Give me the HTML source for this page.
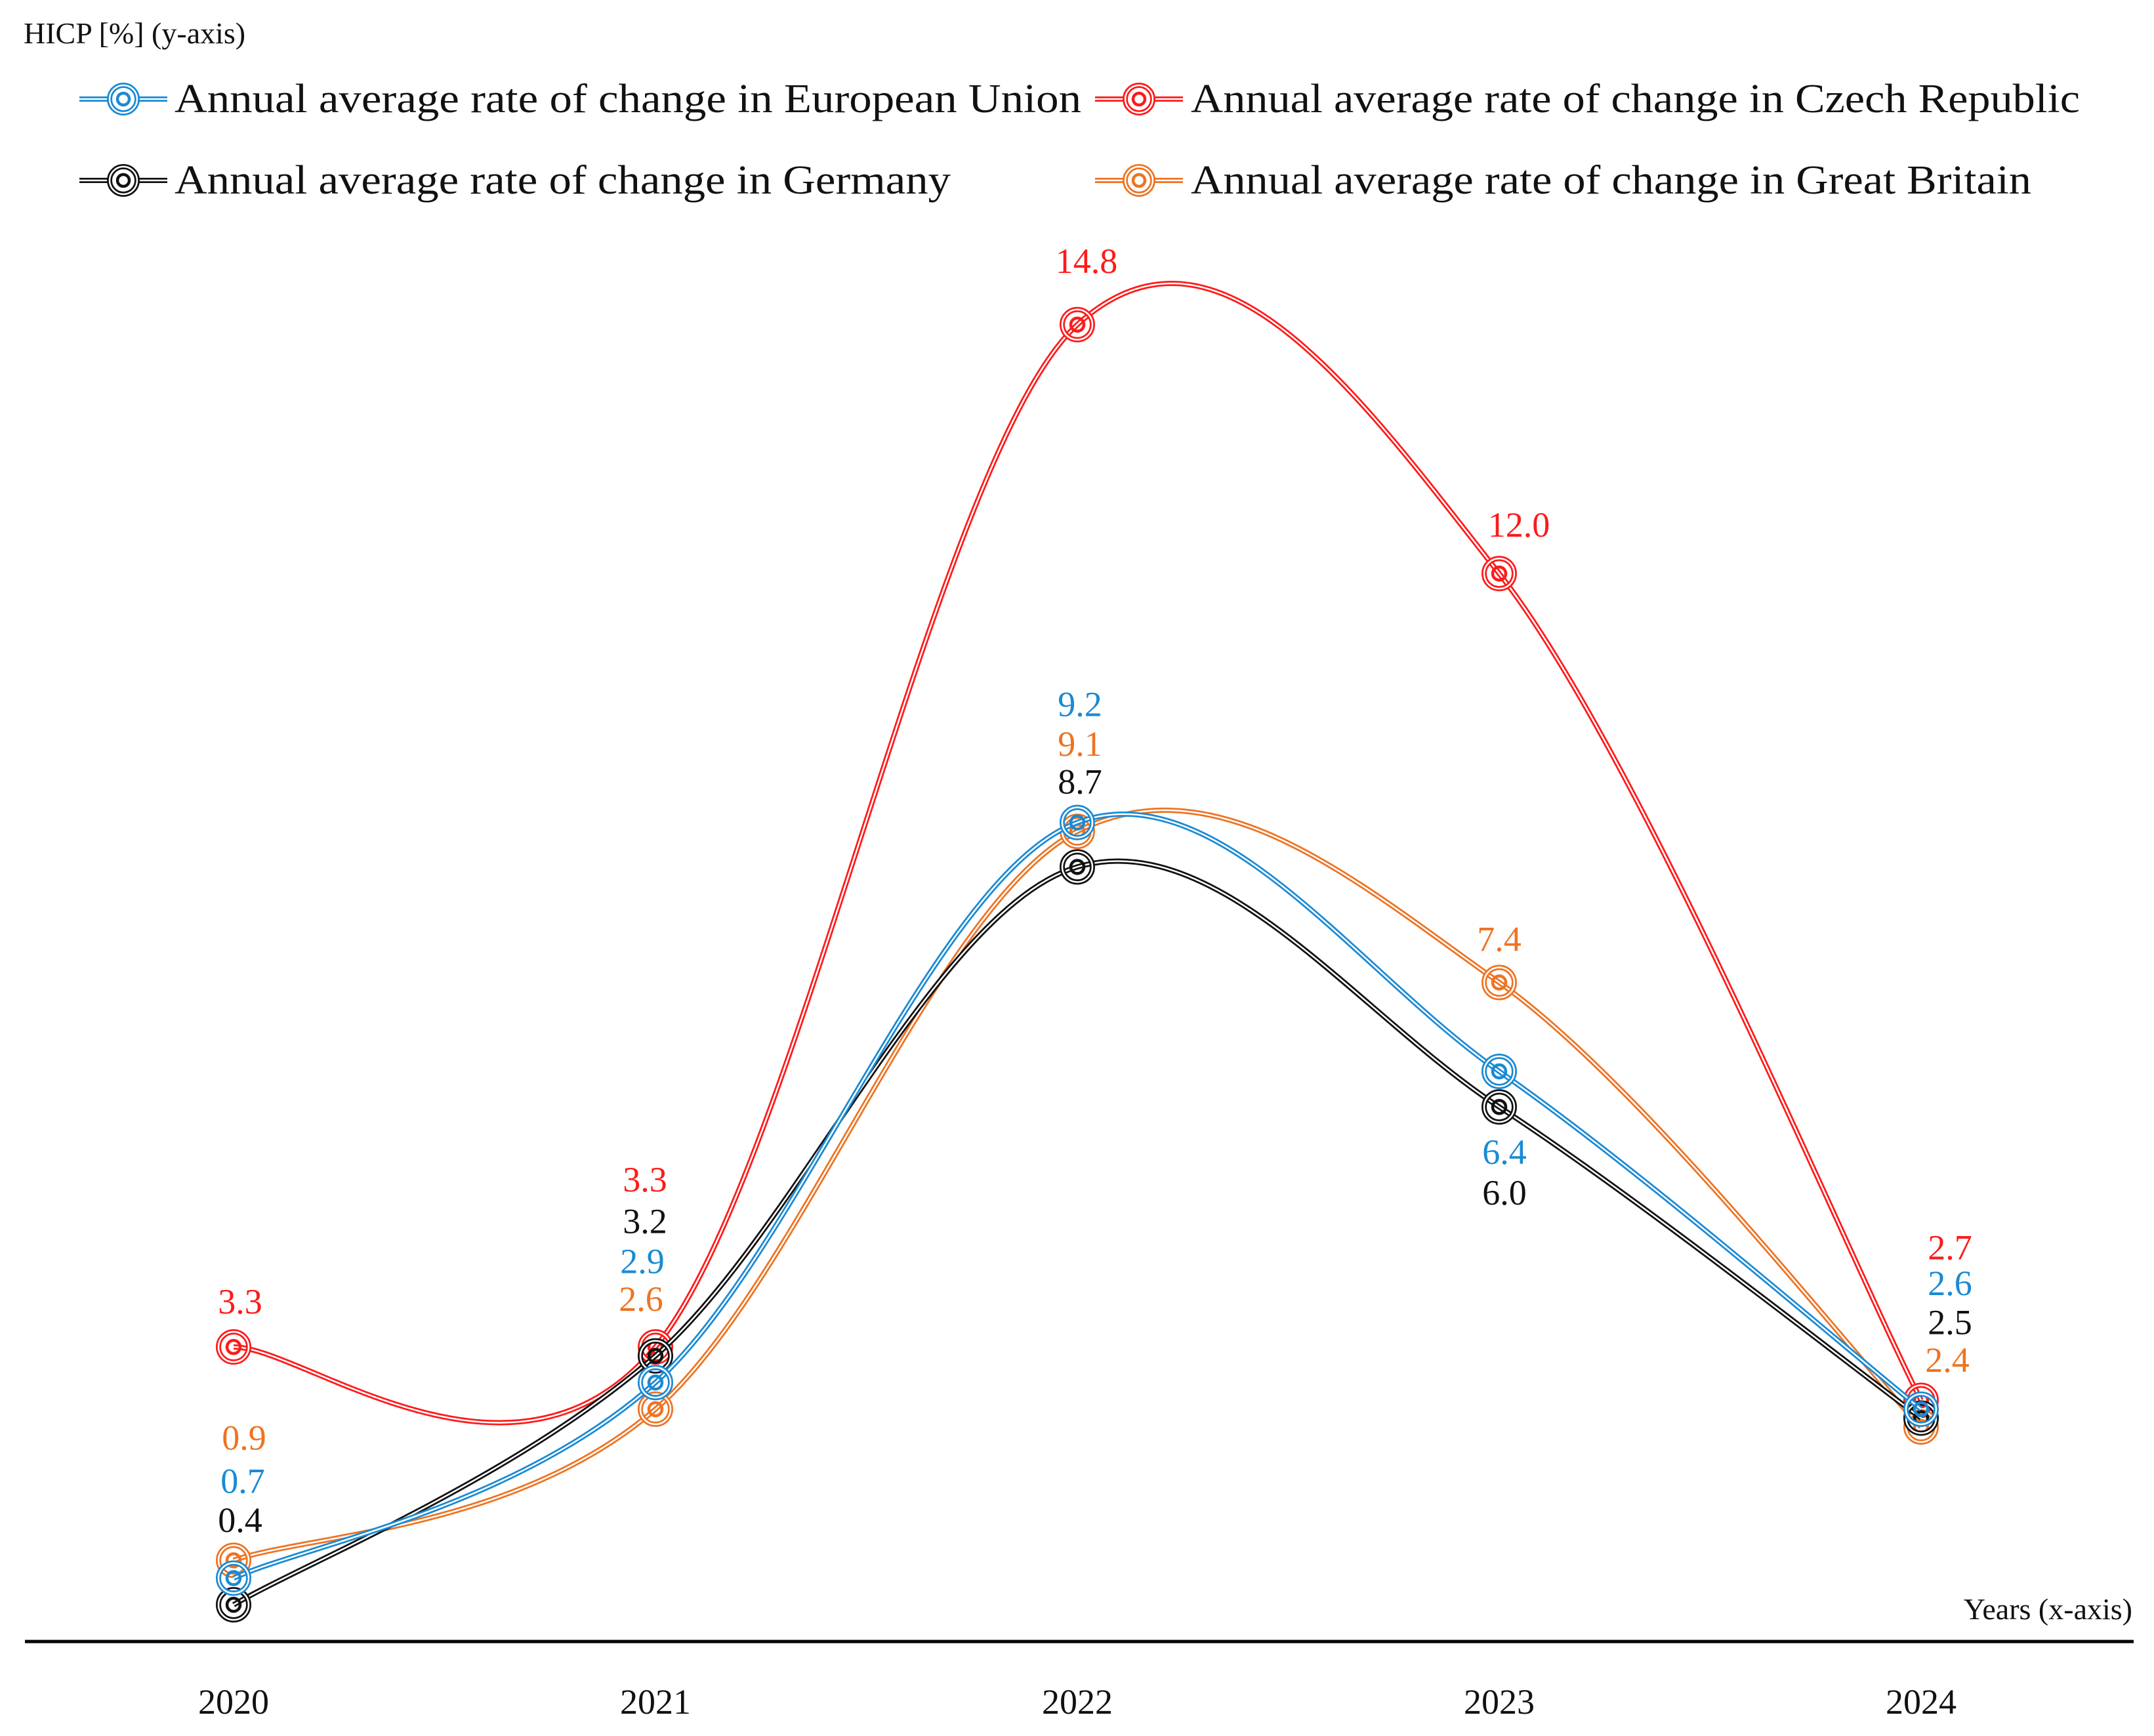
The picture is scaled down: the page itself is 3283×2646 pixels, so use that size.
<!DOCTYPE html>
<html><head><meta charset="utf-8"><style>
html,body{margin:0;padding:0;background:#fff;}
svg{display:block;font-family:"Liberation Serif",serif;}
</style></head><body>
<svg id="chart" width="3283" height="2646" viewBox="0 0 3283 2646" xmlns="http://www.w3.org/2000/svg">
<text x="36" y="66" font-size="46" fill="#111">HICP [%] (y-axis)</text>
<g id="legend"></g>
<line x1="38" y1="2502" x2="3252" y2="2502" stroke="#000" stroke-width="5"/>
<text x="3250" y="2468" font-size="46" text-anchor="end" fill="#111">Years (x-axis)</text>
<g id="xticks"></g>
<g id="series"></g>
<g id="labels"></g>
</svg>
<script>
const years = ["2020","2021","2022","2023","2024"];
const seriesNames = ["European Union","Czech Republic","Germany","Great Britain"];
const euValues = [0.7, 2.9, 9.2, 6.4, 2.6];
const czValues = [3.3, 3.3, 14.8, 12.0, 2.7];
const deValues = [0.4, 3.2, 8.7, 6.0, 2.5];
const gbValues = [0.9, 2.6, 9.1, 7.4, 2.4];
const colors = {eu:"#1a8ad4", cz:"#ff1a1a", de:"#111111", gb:"#ee7322"};
// label offsets (px) relative to marker, per year
const czLabelOff = [[10,-64],[-16,-250],[14,-92],[30,-69],[44,-228]];
const euLabelOff = [[14,-143],[-20,-180],[4,-175],[8,128],[44,-187]];
const deLabelOff = [[10,-124],[-16,-200],[4,-125],[8,136],[44,-141]];
const gbLabelOff = [[16,-182],[-22,-163],[4,-128],[0,-61],[40,-97]];
const LABEL_SHIFT = 13;

const X0=356, XSTEP=643, Y04=2446, YUNIT=135.5;
function xs(i){return X0+i*XSTEP;}
function ys(v){return Y04-(v-0.4)*YUNIT;}

const svg=document.getElementById('chart');
const NS="http://www.w3.org/2000/svg";
function el(t,a,parent){const e=document.createElementNS(NS,t);for(const k in a)e.setAttribute(k,a[k]);(parent||svg).appendChild(e);return e;}

const xt=document.getElementById('xticks');
years.forEach((y,i)=>{
  const t=el('text',{x:xs(i),y:2612,'font-size':54,'text-anchor':'middle',fill:'#111'},xt);
  
  
  t.textContent=y;
});

function pathFor(vals){
  const p=vals.map((v,i)=>[xs(i),ys(v)]);
  let d=`M${p[0][0]},${p[0][1]}`;
  for(let i=0;i<p.length-1;i++){
    const p0=p[i-1]||p[i], p1=p[i], p2=p[i+1], p3=p[i+2]||p[i+1];
    const c1=[p1[0]+(p2[0]-p0[0])/6,p1[1]+(p2[1]-p0[1])/6];
    const c2=[p2[0]-(p3[0]-p1[0])/6,p2[1]-(p3[1]-p1[1])/6];
    d+=` C${c1[0]},${c1[1]} ${c2[0]},${c2[1]} ${p2[0]},${p2[1]}`;
  }
  return d;
}
function marker(g,cx,cy,c){
  el('circle',{cx,cy,r:23,fill:'none',stroke:c,'stroke-width':8},g);
  el('circle',{cx,cy,r:23,fill:'none',stroke:'#fff','stroke-width':2.5},g);
  el('circle',{cx,cy,r:10,fill:'none',stroke:c,'stroke-width':4.5},g);
}
const sg=document.getElementById('series');
const lg=document.getElementById('labels');
const all=[["cz",czValues,czLabelOff],["gb",gbValues,gbLabelOff],["de",deValues,deLabelOff],["eu",euValues,euLabelOff]];
all.forEach(([k,vals,off])=>{
  const g=el('g',{},sg);
  
  
  const d=pathFor(vals);
  const l1=el('path',{d,fill:'none',stroke:colors[k],'stroke-width':8},g);
  
  
  el('path',{d,fill:'none',stroke:'#fff','stroke-width':2.5},g);
  vals.forEach((v,i)=>{
    const m=el('g',{},g);
    
    
    marker(m,xs(i),ys(v),colors[k]);
    const t=el('text',{x:xs(i)+off[i][0],y:ys(v)+off[i][1]+LABEL_SHIFT,'font-size':54,'text-anchor':'middle',fill:colors[k]},lg);
    
    
    t.textContent=v.toFixed(1);
  });
});

const leg=document.getElementById('legend');
const legendItems=[["eu",0,151,1382],["cz",1,151,1355],["de",2,275,1183],["gb",3,275,1281]];
legendItems.forEach(([k,idx,y,w])=>{
  const col=idx%2, ix=col?1669:121, tx=col?1815:266;
  const g=el('g',{},leg);
  
  
  el('line',{x1:ix,y1:y,x2:ix+134,y2:y,stroke:colors[k],'stroke-width':8},g);
  el('line',{x1:ix,y1:y,x2:ix+134,y2:y,stroke:'#fff','stroke-width':2.5},g);
  el('circle',{cx:ix+67,cy:y,r:21,fill:'#fff',stroke:colors[k],'stroke-width':8},g);
  el('circle',{cx:ix+67,cy:y,r:21,fill:'none',stroke:'#fff','stroke-width':2.5},g);
  el('circle',{cx:ix+67,cy:y,r:9,fill:'none',stroke:colors[k],'stroke-width':4.5},g);
  const t=el('text',{x:tx,y:y+20,'font-size':62,fill:'#111',textLength:w,lengthAdjust:'spacingAndGlyphs'},g);
  t.textContent='Annual average rate of change in '+seriesNames[idx];
});
</script>
</body></html>
